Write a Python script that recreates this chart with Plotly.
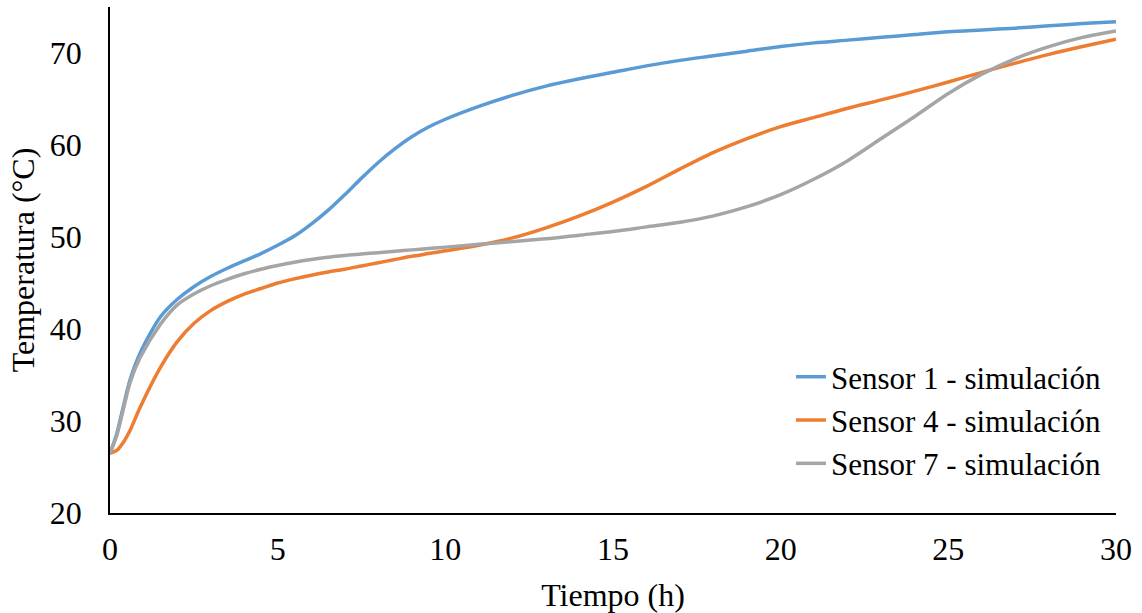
import plotly.graph_objects as go

tiempo = [0, 0.2, 0.4, 0.6, 0.9, 1.5, 2, 2.5, 3, 3.5, 4, 4.5, 5, 5.5, 6, 6.5, 7, 7.5, 8, 8.5, 9, 9.5, 10,
          11, 12, 13, 14, 15, 16, 17, 18, 19, 20, 21, 22, 23, 24, 25, 26, 27, 28, 29, 30]

sensor1 = [26.5, 28.6, 31.6, 34.5, 37.4, 41.3, 43.2, 44.6, 45.7, 46.6, 47.4, 48.2, 49.1, 50.1, 51.4, 52.9,
           54.6, 56.4, 58.1, 59.6, 60.9, 61.95, 62.8, 64.2, 65.4, 66.4, 67.2, 67.9, 68.6, 69.2, 69.7, 70.2,
           70.7, 71.1, 71.4, 71.7, 72.0, 72.3, 72.5, 72.7, 72.95, 73.2, 73.4]

sensor4 = [26.5, 26.8, 27.7, 29.0, 31.5, 35.8, 38.6, 40.6, 42.0, 43.0, 43.8, 44.4, 45.0, 45.45, 45.85, 46.2,
           46.5, 46.85, 47.2, 47.55, 47.9, 48.2, 48.5, 49.1, 49.9, 51.0, 52.3, 53.8, 55.5, 57.4, 59.2, 60.7,
           62.0, 63.0, 64.0, 64.9, 65.85, 66.85, 67.9, 68.9, 69.85, 70.7, 71.5]

sensor7 = [26.5, 28.4, 31.3, 34.2, 36.9, 40.5, 42.6, 43.8, 44.7, 45.4, 46.0, 46.5, 46.9, 47.25, 47.55, 47.8,
           48.0, 48.15, 48.3, 48.45, 48.6, 48.75, 48.9, 49.2, 49.5, 49.8, 50.2, 50.6, 51.1, 51.6, 52.3, 53.3,
           54.6, 56.3, 58.3, 60.7, 63.1, 65.6, 67.7, 69.4, 70.7, 71.7, 72.4]

nombres = ["Sensor 1 - simulación", "Sensor 4 - simulación", "Sensor 7 - simulación"]
colores = ["#5B9BD5", "#ED7D31", "#A5A5A5"]

fig = go.Figure()
for serie, nombre, color in zip([sensor1, sensor4, sensor7], nombres, colores):
    fig.add_trace(go.Scatter(x=tiempo, y=serie, mode="lines", name=nombre,
                             line=dict(color=color, width=3.5, shape="spline", smoothing=0.8)))

font_family = "Liberation Serif, Times New Roman, serif"
fig.update_layout(
    width=1142, height=613,
    margin=dict(l=110, r=26, t=7, b=100),
    plot_bgcolor="white", paper_bgcolor="white",
    font=dict(family=font_family, size=32, color="black"),
    showlegend=True,
    legend=dict(x=0.99, xanchor="right", y=0.322, yanchor="top",
                font=dict(family=font_family, size=31, color="black"),
                bgcolor="rgba(0,0,0,0)", tracegroupgap=0),
)
fig.update_xaxes(range=[0, 30], tickvals=[0, 5, 10, 15, 20, 25, 30], showgrid=False, zeroline=False,
                 showline=True, linecolor="black", linewidth=1.5, ticks="", ticklabelstandoff=7,
                 title=dict(text="Tiempo (h)", standoff=17, font=dict(size=32)),
                 tickfont=dict(size=32))
fig.update_yaxes(range=[20, 75], tickvals=[20, 30, 40, 50, 60, 70], showgrid=False, zeroline=False,
                 showline=True, linecolor="black", linewidth=1.5, ticks="", ticklabelstandoff=20,
                 title=dict(text="Temperatura (°C)", standoff=6, font=dict(size=32)),
                 tickfont=dict(size=32))

fig.write_html("out.html")
